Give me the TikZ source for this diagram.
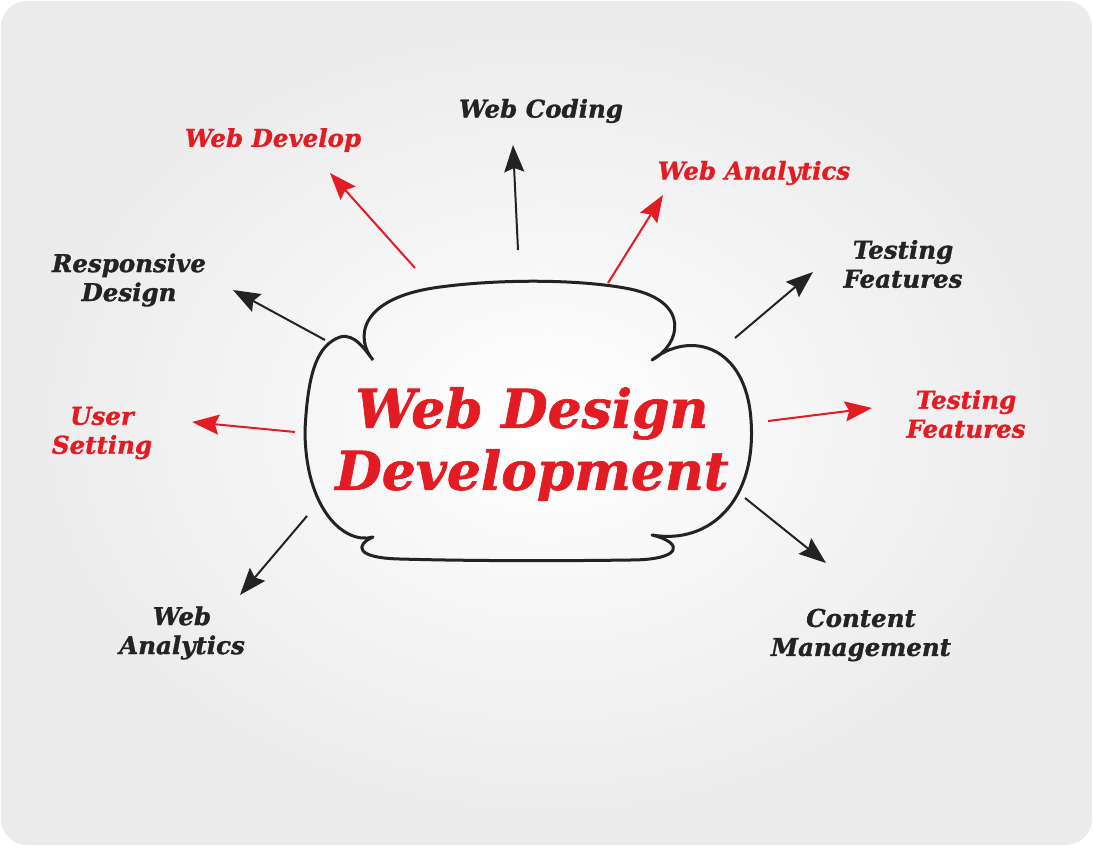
\documentclass[tikz,border=0pt]{standalone}
\usepackage{fontspec}
\setmainfont{DejaVu Serif}[BoldItalicFeatures={FakeBold=1.2}]
\usetikzlibrary{arrows.meta,shadings}
\definecolor{wred}{HTML}{E31B23}
\definecolor{wblack}{HTML}{232323}
\begin{document}
\begin{tikzpicture}[x=1pt,y=-1pt,
  lbl/.style={font=\fontsize{24.5}{29}\selectfont\bfseries\itshape, align=center, inner sep=0pt},
  redlbl/.style={lbl, text=wred},
  blacklbl/.style={lbl, text=wblack},
  arr/.style={line width=2pt, -{Stealth[length=27pt,width=20pt,inset=4pt]}},
  redarr/.style={arr, draw=wred},
  blackarr/.style={arr, draw=wblack},
  cloud/.style={line width=3pt, draw=wblack, line join=round}]
\useasboundingbox (0,0) rectangle (1093,847);
\fill[white] (0,0) rectangle (1093,847);
\shade[inner color=white, outer color=gray!16, rounded corners=26pt] (1,1) rectangle (1092,845);

% cloud
\draw[cloud] (373,360)
  .. controls (356,340) and (356,298) .. (440,287)
  .. controls (500,279) and (580,279) .. (630,289)
  .. controls (692,302) and (680,345) .. (652,360)
  .. controls (690,330) and (746,345) .. (751,420)
  .. controls (757,500) and (710,545) .. (652,535)
  .. controls (685,543) and (682,560) .. (630,560)
  .. controls (560,561) and (470,561) .. (400,559)
  .. controls (355,558) and (355,545) .. (373,537)
  .. controls (345,545) and (305,510) .. (305,430)
  .. controls (308,370) and (318,345) .. (340,337)
  .. controls (355,333) and (365,350) .. (373,360);

\node[text=wred, font=\fontsize{53.5}{62}\selectfont\bfseries\itshape, align=center, inner sep=0pt] (title) at (532,444) {Web Design\\Development};

% labels
\node[redlbl] (wdev) at (273,140) {Web Develop};
\node[blacklbl] (wcod) at (541,111) {Web Coding};
\node[redlbl] (wana) at (754,173) {Web Analytics};
\node[blacklbl] (tf1) at (903,264) {Testing\\Features};
\node[redlbl] (tf2) at (966,414) {Testing\\Features};
\node[blacklbl] (resp) at (129,280) {Responsive\\Design};
\node[redlbl] (user) at (102,433) {User\\Setting};
\node[blacklbl] (wana2) at (182,633) {Web\\Analytics};
\node[blacklbl] (cont) at (861,635) {Content\\Management};

% arrow endpoints
\coordinate (s1) at (415,268); \coordinate (e1) at (330,173);
\coordinate (s2) at (518,250); \coordinate (e2) at (513,145);
\coordinate (s3) at (608,283); \coordinate (e3) at (663,195);
\coordinate (s4) at (325,340); \coordinate (e4) at (233,290);
\coordinate (s5) at (295,432); \coordinate (e5) at (192,422);
\coordinate (s6) at (735,338); \coordinate (e6) at (813,272);
\coordinate (s7) at (768,421); \coordinate (e7) at (872,408);
\coordinate (s8) at (307,516); \coordinate (e8) at (240,595);
\coordinate (s9) at (745,498); \coordinate (e9) at (826,563);

\draw[redarr] (s1) -- (e1);
\draw[blackarr] (s2) -- (e2);
\draw[redarr] (s3) -- (e3);
\draw[blackarr] (s4) -- (e4);
\draw[redarr] (s5) -- (e5);
\draw[blackarr] (s6) -- (e6);
\draw[redarr] (s7) -- (e7);
\draw[blackarr] (s8) -- (e8);
\draw[blackarr] (s9) -- (e9);
\end{tikzpicture}
\end{document}
